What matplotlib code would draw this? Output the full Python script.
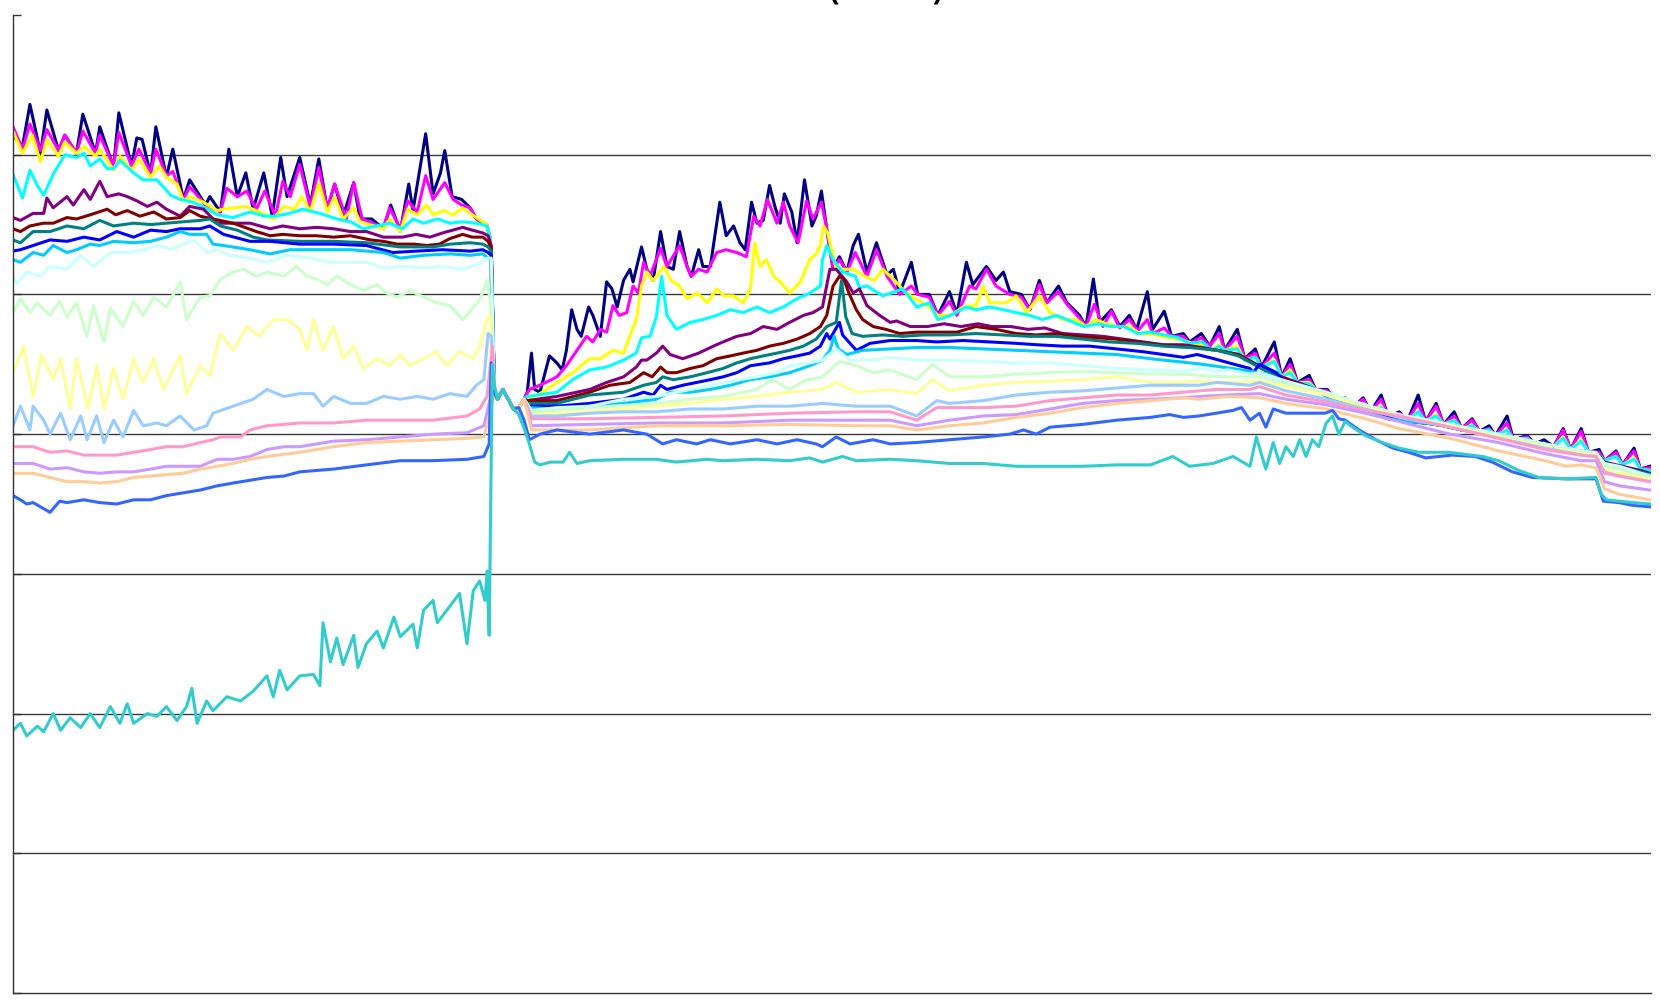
import matplotlib
matplotlib.use("Agg")
import matplotlib.pyplot as plt

# ---------------- data (x = sample index, y = value; gridlines every 100) ----------------
title_text = "(MW)"
grid_levels = [100, 200, 300, 400, 500, 600]

# common stretch where all series coincide
merged = [(458, 425), (463, 432), (468, 425), (473, 418), (478, 419), (483, 425)]

navy_a = [(0,614),(9,606),(16,636),(26,601),(32,632),(43,603),(49,614),(60,601),(66,629),(78,601),(82,620),(95,591),(100,630),(112,592),(117,612),(122,611),(130,586),(135,620),(145,584),(151,604),(161,568),(167,582),(182,564),(186,570),(196,559),(204,604),(212,570),(220,587),(227,561),(237,587),(245,556),(253,598),(259,570),(271,598),(281,564),(289,597),(297,561),(304,579),(312,556),(322,580),(328,554),(339,554),(350,547),(357,564),(366,545),(374,579),(378,560),(390,615),(397,572),(404,587),(408,603),(415,570),(424,568),(432,562),(438,554),(448,549),(451,540),(455,429)]
navy_b = [(486,430),(490,458),(493,432),(498,430),(507,456),(514,451),(519,446),(523,460),(528,489),(533,475),(537,470),(544,491),(548,485),(555,470),(561,509),(566,504),(571,491),(577,510),(583,518),(586,509),(594,534),(599,518),(605,510),(612,545),(618,520),(624,518),(630,545),(637,520),(641,513),(648,532),(652,520),(659,520),(668,566),(674,542),(681,549),(687,537),(692,532),(698,566),(703,551),(709,553),(715,578),(720,563),(725,551),(729,572),(736,559),(741,537),(748,582),(755,549),(759,556),(764,574),(769,547),(775,518),(781,527),(788,516),(794,535),(799,543),(807,516),(816,537),(826,514),(832,518),(838,501),(849,523),(855,500),(866,500),(874,485),(885,502),(892,486),(901,523),(907,507),(920,520),(929,510),(936,516),(942,502),(953,500),(961,489),(970,510),(977,494),(988,506),(996,494),(1008,485),(1014,477),(1021,511),(1027,480),(1038,489),(1046,477),(1055,485),(1062,475),(1072,502),(1077,475),(1088,488),(1095,470),(1106,472),(1112,466),(1123,472),(1131,463),(1140,477),(1145,460),(1157,475),(1164,454),(1174,461),(1180,448),(1192,466),(1199,441),(1207,454),(1214,437),(1225,442),(1231,432),(1242,432),(1248,426),(1259,426),(1266,419),(1276,426),(1283,416),(1293,428),(1300,412),(1310,416),(1318,410),(1328,428),(1335,409),(1345,422),(1352,407),(1362,416),(1369,404),(1379,411),(1386,402),(1395,406),(1401,399),(1412,413),(1418,396),(1431,399),(1438,393),(1447,396),(1456,391),(1465,404),(1472,389),(1482,404),(1489,387),(1499,389),(1504,381),(1515,388),(1521,378),(1532,390),(1538,375),(1547,377)]

magenta_a = [(0,620),(9,604),(16,622),(26,603),(32,618),(43,603),(49,614),(60,601),(66,617),(78,601),(82,614),(95,592),(100,616),(112,592),(119,604),(130,587),(135,604),(145,585),(151,588),(161,568),(167,577),(182,564),(196,559),(202,576),(212,570),(221,574),(230,561),(238,574),(248,556),(255,581),(262,570),(271,593),(281,562),(289,591),(297,561),(304,579),(315,554),(322,580),(330,554),(350,548),(356,562),(366,547),(373,567),(382,559),(390,585),(397,568),(408,580),(416,568),(424,564),(432,562),(438,554),(448,550),(451,540),(455,429)]
magenta_b = [(488,432),(498,435),(514,441),(523,449),(533,460),(542,470),(548,466),(555,475),(561,473),(567,492),(573,485),(580,487),(586,506),(591,501),(596,523),(602,513),(612,533),(618,520),(622,525),(630,535),(637,520),(641,513),(648,518),(656,516),(665,530),(674,532),(684,530),(693,527),(700,556),(706,549),(713,568),(722,551),(728,566),(734,549),(742,537),(750,567),(756,554),(764,566),(769,547),(775,518),(781,525),(788,516),(796,530),(807,513),(816,532),(826,513),(838,500),(849,506),(855,500),(866,498),(874,485),(885,495),(892,485),(904,506),(910,504),(920,518),(929,506),(942,500),(953,498),(961,489),(970,507),(977,494),(988,502),(996,493),(1008,483),(1014,477),(1022,493),(1030,477),(1038,488),(1046,476),(1055,482),(1063,474),(1072,482),(1077,472),(1088,476),(1095,470),(1106,470),(1112,465),(1123,469),(1131,463),(1140,472),(1145,460),(1157,470),(1164,454),(1174,458),(1180,448),(1192,458),(1199,441),(1207,450),(1214,437),(1225,439),(1231,432),(1242,431),(1248,426),(1259,425),(1266,419),(1276,425),(1283,416),(1293,425),(1300,412),(1310,415),(1318,410),(1328,422),(1335,409),(1345,420),(1352,407),(1362,413),(1369,404),(1379,410),(1386,402),(1395,404),(1401,399),(1412,408),(1418,396),(1431,398),(1438,393),(1447,392),(1456,391),(1465,403),(1472,389),(1482,402),(1489,387),(1499,387),(1504,381),(1515,387),(1521,378),(1532,388),(1538,375),(1547,376)]

yellow_a = [(0,617),(9,601),(18,614),(26,595),(32,611),(43,599),(49,609),(60,601),(67,606),(78,599),(82,604),(95,589),(101,599),(112,589),(119,597),(130,584),(138,592),(145,584),(155,579),(161,567),(167,570),(180,566),(193,560),(199,561),(220,563),(233,559),(246,554),(256,563),(266,561),(273,570),(281,559),(289,580),(297,559),(304,570),(312,554),(322,562),(328,552),(350,547),(356,554),(366,545),(373,561),(382,557),(391,564),(397,557),(407,560),(416,557),(425,562),(434,557),(440,554),(448,550),(451,540),(455,429)]
yellow_b = [(486,425),(498,429),(514,437),(529,444),(545,454),(555,454),(567,460),(577,458),(583,470),(589,482),(594,506),(599,516),(605,510),(615,520),(622,510),(630,506),(637,497),(647,501),(656,494),(665,504),(672,499),(681,499),(690,494),(697,504),(701,537),(706,520),(712,525),(719,513),(725,509),(734,501),(744,509),(753,525),(759,529),(763,535),(766,549),(770,544),(778,518),(794,518),(805,513),(814,510),(822,518),(832,511),(844,501),(866,491),(874,485),(886,485),(898,491),(910,492),(917,506),(923,494),(939,494),(948,499),(958,487),(970,499),(980,487),(992,482),(1005,482),(1014,477),(1023,482),(1033,479),(1043,477),(1055,477),(1065,472),(1080,471),(1093,469),(1106,467),(1124,463),(1133,460),(1140,464),(1145,460),(1157,463),(1164,453),(1174,455),(1180,448),(1192,453),(1199,441),(1207,446),(1214,437),(1225,437),(1231,432),(1242,429),(1248,426),(1259,424),(1266,419),(1276,422),(1283,416),(1293,420),(1300,412),(1310,413),(1318,410),(1328,416),(1335,409),(1345,414),(1352,407),(1362,410),(1369,404),(1379,406),(1386,402),(1395,403),(1401,399),(1412,403),(1418,396),(1431,396),(1438,393),(1456,391),(1465,398),(1472,389),(1482,396),(1489,387),(1499,385),(1504,381),(1515,384),(1521,378),(1532,383),(1538,375),(1547,374)]

cyan_a = [(0,586),(9,569),(16,589),(23,578),(29,571),(38,586),(49,600),(60,598),(67,601),(73,592),(82,597),(89,590),(95,590),(101,596),(114,587),(123,582),(136,582),(149,571),(158,568),(170,566),(182,562),(193,557),(208,555),(224,559),(238,556),(248,556),(261,558),(274,561),(290,558),(306,554),(319,552),(331,547),(343,549),(356,551),(368,547),(378,554),(388,551),(401,554),(413,551),(425,552),(438,551),(448,549),(451,540),(455,429)]
cyan_b = [(486,427),(514,430),(529,439),(545,446),(561,448),(577,453),(589,458),(594,469),(602,470),(608,484),(613,513),(618,485),(627,475),(640,480),(652,482),(665,485),(678,489),(690,487),(703,491),(715,487),(728,491),(741,497),(753,501),(763,506),(765,525),(769,535),(775,525),(784,516),(796,513),(800,505),(807,506),(822,499),(841,504),(854,491),(866,494),(874,482),(886,485),(901,491),(910,489),(923,491),(936,489),(948,487),(961,485),(973,482),(986,485),(999,481),(1012,477),(1025,479),(1038,477),(1050,477),(1063,472),(1075,473),(1088,471),(1101,469),(1112,465),(1124,466),(1133,460),(1140,463),(1145,460),(1157,461),(1164,453),(1174,455),(1180,448),(1192,452),(1199,441),(1207,444),(1214,437),(1225,436),(1231,432),(1242,429),(1248,426),(1259,425),(1266,419),(1276,422),(1283,416),(1293,419),(1300,412),(1310,413),(1318,410),(1328,416),(1335,409),(1345,413),(1352,407),(1362,410),(1369,404),(1379,406),(1386,402),(1395,403),(1401,399),(1412,403),(1418,396),(1431,397),(1438,393),(1456,391),(1465,397),(1472,389),(1482,395),(1489,387),(1499,385),(1504,381),(1515,384),(1521,378),(1532,382),(1538,375),(1547,374)]

purple_a = [(0,555),(7,553),(19,558),(29,558),(32,569),(38,562),(51,570),(57,564),(67,575),(73,568),(82,581),(89,570),(100,572),(108,570),(117,567),(127,563),(136,566),(145,561),(158,556),(167,563),(180,561),(193,551),(212,551),(224,551),(243,547),(255,549),(271,547),(287,548),(303,547),(319,545),(334,545),(350,541),(368,541),(381,543),(394,541),(406,544),(425,548),(434,546),(444,544),(449,542),(452,535),(455,429)]
purple_b = [(486,424),(514,427),(545,432),(561,437),(577,441),(589,448),(594,453),(599,453),(608,458),(614,463),(621,457),(633,454),(648,458),(662,463),(671,466),(684,470),(697,472),(709,477),(722,475),(734,480),(747,485),(756,487),(765,491),(772,518),(778,518),(788,509),(794,501),(800,504),(807,492),(819,485),(829,480),(835,481),(848,477),(864,477),(880,479),(896,477),(912,479),(925,477),(943,477),(959,475),(975,476),(992,472),(1011,471),(1030,470),(1049,468),(1068,466),(1087,464),(1106,464),(1124,462),(1138,460),(1158,457),(1180,448),(1199,441),(1214,437),(1231,432),(1248,426),(1266,419),(1283,416),(1300,412),(1318,410),(1335,409),(1352,407),(1369,404),(1386,402),(1401,399),(1418,396),(1438,393),(1456,391),(1472,389),(1489,387),(1499,385),(1504,380),(1521,377),(1538,374),(1547,372)]

maroon_a = [(0,547),(7,545),(16,549),(29,551),(38,551),(51,555),(60,554),(73,557),(89,561),(97,557),(108,560),(120,556),(133,559),(145,554),(158,555),(167,560),(177,556),(189,554),(208,551),(230,545),(243,542),(255,543),(271,542),(287,542),(303,541),(319,542),(338,539),(350,538),(363,536),(379,536),(391,535),(403,536),(413,540),(425,543),(434,541),(444,541),(449,538),(452,533),(455,429)]
maroon_b = [(486,424),(514,424),(545,430),(564,435),(583,437),(596,444),(604,441),(612,448),(618,444),(627,444),(640,447),(652,449),(665,454),(678,456),(690,458),(703,460),(715,463),(728,465),(741,468),(753,472),(763,477),(769,485),(775,506),(781,513),(785,511),(790,501),(797,489),(803,482),(813,477),(825,475),(838,472),(854,473),(873,473),(892,473),(910,477),(929,475),(948,472),(967,471),(986,472),(1005,470),(1024,469),(1043,468),(1062,466),(1081,464),(1100,463),(1119,462),(1138,460),(1158,457),(1180,447),(1199,440),(1214,436),(1231,432),(1248,425),(1266,419),(1283,415),(1300,411),(1318,409),(1335,408),(1352,406),(1369,403),(1386,401),(1401,398),(1418,395),(1438,392),(1456,391),(1472,388),(1489,386),(1499,384),(1504,379),(1521,376),(1538,373),(1547,371)]

teal_a = [(0,539),(7,537),(19,545),(35,545),(51,549),(67,547),(82,553),(95,549),(114,551),(130,550),(145,551),(161,552),(177,553),(186,554),(196,549),(212,546),(227,541),(240,539),(271,538),(303,538),(334,537),(366,534),(397,534),(413,536),(432,537),(444,536),(449,534),(452,531),(455,429)]
teal_b = [(486,422),(514,422),(545,428),(577,430),(596,435),(608,437),(614,441),(624,439),(640,441),(656,444),(671,447),(684,451),(697,454),(709,456),(722,458),(734,460),(747,463),(759,468),(769,477),(778,480),(783,510),(787,484),(793,472),(803,470),(822,471),(841,470),(860,471),(885,471),(910,472),(936,471),(961,470),(986,470),(1011,468),(1036,466),(1062,465),(1087,463),(1112,462),(1138,460),(1158,456),(1180,447),(1199,439),(1214,435),(1231,431),(1248,425),(1266,419),(1283,415),(1300,411),(1318,409),(1335,408),(1352,406),(1369,403),(1386,401),(1401,398),(1418,395),(1438,392),(1456,391),(1472,388),(1489,386),(1499,384),(1504,379),(1521,376),(1538,373),(1547,371)]

blue_a = [(0,531),(7,532),(19,535),(35,539),(51,538),(67,541),(82,539),(98,545),(114,541),(130,546),(145,545),(158,547),(177,547),(186,549),(199,543),(224,538),(243,538),(271,536),(303,536),(334,535),(359,530),(381,531),(406,532),(432,531),(444,532),(449,530),(452,528),(455,429)]
blue_b = [(486,420),(514,420),(545,422),(577,425),(596,430),(605,428),(612,435),(618,432),(633,435),(646,437),(659,439),(671,441),(684,444),(697,449),(715,451),(728,454),(741,456),(753,458),(763,463),(769,472),(772,468),(781,480),(784,471),(791,465),(797,460),(810,465),(829,467),(854,467),(873,466),(898,467),(923,466),(948,465),(967,464),(992,463),(1017,463),(1043,461),(1068,459),(1087,457),(1106,455),(1119,457),(1135,454),(1154,450),(1169,447),(1172,444),(1178,450),(1194,444),(1201,438),(1214,435),(1231,431),(1248,425),(1266,419),(1283,415),(1300,411),(1318,409),(1335,408),(1352,406),(1369,403),(1386,401),(1401,398),(1418,395),(1438,392),(1456,391),(1472,388),(1489,386),(1499,384),(1504,378),(1521,375),(1538,372),(1547,371)]

sky_a = [(0,525),(7,523),(19,530),(29,528),(38,535),(51,530),(60,532),(73,536),(82,535),(95,538),(114,537),(130,538),(145,541),(158,545),(167,543),(183,543),(189,536),(199,535),(224,532),(243,529),(262,532),(287,532),(319,532),(350,530),(366,526),(388,528),(413,529),(432,528),(444,529),(449,526),(452,525),(455,429)]
sky_b = [(486,419),(514,418),(545,420),(577,422),(608,425),(621,430),(640,430),(659,432),(678,435),(697,439),(715,441),(734,444),(753,449),(765,453),(772,460),(776,470),(780,461),(788,457),(803,460),(829,461),(854,462),(885,462),(917,461),(948,460),(980,459),(1011,458),(1043,457),(1075,454),(1100,452),(1124,450),(1143,448),(1169,445),(1185,443),(1201,438),(1214,435),(1231,431),(1248,425),(1266,419),(1283,415),(1300,411),(1318,409),(1335,408),(1352,406),(1369,403),(1386,401),(1401,398),(1418,395),(1438,392),(1456,391),(1472,388),(1489,386),(1499,384),(1504,378),(1521,375),(1538,372),(1547,371)]

lcyan_a = [(0,513),(4,508),(13,516),(26,513),(35,520),(51,518),(64,528),(76,520),(92,530),(108,530),(123,532),(139,535),(149,532),(158,535),(171,539),(183,530),(193,532),(205,528),(224,526),(240,523),(259,528),(271,527),(281,526),(300,523),(319,523),(334,523),(350,519),(368,520),(388,519),(406,520),(425,518),(441,522),(448,526),(452,526),(455,429)]
lcyan_b = [(490,417),(514,419),(545,420),(577,425),(608,427),(640,432),(671,437),(703,441),(722,444),(734,449),(753,451),(765,453),(778,461),(791,453),(813,453),(829,455),(854,453),(885,453),(917,452),(948,451),(980,451),(1011,449),(1043,447),(1075,446),(1106,445),(1121,447),(1138,445),(1148,446),(1169,443),(1178,444),(1203,438),(1241,430),(1278,421),(1310,414),(1358,407),(1404,400),(1448,393),(1482,388),(1496,387),(1504,379),(1518,377),(1547,370)]

lgreen_a = [(0,487),(7,497),(16,487),(23,494),(35,485),(44,495),(51,484),(60,494),(70,470),(76,492),(86,466),(92,490),(104,477),(114,495),(123,485),(133,498),(145,491),(158,509),(164,482),(177,498),(186,499),(196,511),(208,516),(218,518),(230,513),(240,516),(256,513),(268,520),(278,513),(287,511),(297,507),(306,513),(319,507),(331,503),(344,507),(353,501),(363,498),(375,503),(388,498),(401,494),(413,492),(425,482),(432,488),(441,496),(448,510),(451,495),(455,429)]
lgreen_b = [(490,416),(514,417),(545,419),(608,422),(640,425),(671,427),(703,432),(718,439),(734,432),(750,439),(765,441),(781,452),(797,449),(813,444),(829,446),(854,439),(869,450),(885,441),(917,441),(948,443),(980,444),(1011,445),(1043,444),(1075,443),(1106,443),(1121,442),(1148,441),(1178,441),(1203,436),(1241,429),(1278,420),(1310,413),(1358,406),(1404,399),(1448,392),(1482,387),(1496,385),(1504,378),(1518,375),(1547,369)]

lyellow_a = [(0,444),(10,463),(19,427),(27,457),(33,447),(38,439),(45,454),(54,418),(60,454),(71,418),(79,449),(86,418),(95,447),(104,425),(114,454),(123,437),(133,454),(142,432),(158,456),(164,429),(177,449),(186,442),(196,472),(208,460),(221,477),(233,470),(246,482),(259,482),(271,475),(278,460),(284,482),(293,460),(303,477),(312,454),(322,463),(331,447),(344,454),(356,449),(366,457),(375,449),(388,454),(400,459),(410,449),(422,459),(435,454),(441,463),(448,482),(451,485),(455,429)]
lyellow_b = [(490,414),(545,416),(577,418),(608,420),(640,422),(671,425),(703,427),(734,430),(765,432),(778,437),(797,430),(829,432),(854,429),(869,439),(885,431),(917,435),(948,437),(980,438),(1011,439),(1043,441),(1075,437),(1106,437),(1121,438),(1148,437),(1178,438),(1203,434),(1241,428),(1278,419),(1310,413),(1358,406),(1404,398),(1448,391),(1482,386),(1496,385),(1504,375),(1518,372),(1547,368)]

pblue_a = [(0,406),(7,420),(16,403),(19,420),(29,410),(35,400),(45,415),(54,396),(64,413),(70,396),(79,413),(86,394),(95,410),(104,398),(114,417),(123,406),(136,408),(145,406),(158,413),(171,403),(183,406),(189,415),(208,420),(227,425),(240,432),(256,427),(271,429),(284,429),(293,420),(303,427),(319,422),(334,422),(350,427),(366,425),(382,427),(397,425),(413,429),(429,427),(438,435),(445,439),(449,472),(452,470),(455,429)]
pblue_b = [(490,413),(514,413),(545,415),(577,416),(608,416),(640,418),(671,418),(703,420),(734,420),(765,422),(797,420),(829,420),(854,413),(873,424),(885,422),(917,424),(948,428),(980,430),(1011,431),(1043,433),(1075,435),(1106,435),(1121,435),(1138,437),(1169,435),(1178,437),(1203,431),(1241,425),(1278,418),(1310,412),(1358,405),(1404,397),(1448,390),(1482,385),(1496,384),(1504,373),(1518,370),(1547,366)]

rose_a = [(0,391),(19,391),(35,387),(51,388),(67,385),(82,385),(98,385),(114,387),(130,389),(145,391),(161,391),(177,394),(189,396),(196,398),(215,398),(224,403),(240,406),(256,407),(271,408),(303,408),(334,410),(366,410),(397,410),(429,413),(441,418),(448,427),(453,463),(455,429)]
rose_b = [(490,411),(545,411),(608,412),(671,413),(734,415),(797,416),(829,416),(854,410),(873,419),(917,419),(948,420),(980,424),(1011,426),(1043,428),(1075,428),(1106,430),(1121,431),(1138,432),(1169,432),(1178,434),(1203,428),(1241,423),(1278,417),(1310,413),(1358,405),(1404,397),(1448,389),(1482,385),(1496,384),(1504,372),(1518,370),(1547,366)]

lav_a = [(0,379),(19,379),(35,375),(51,376),(67,373),(82,372),(98,373),(114,373),(130,375),(145,377),(161,377),(177,377),(193,382),(208,382),(224,384),(240,389),(256,391),(271,391),(303,395),(334,396),(366,398),(397,400),(429,401),(445,406),(451,425),(455,429)]
lav_b = [(490,406),(545,407),(608,408),(671,408),(734,410),(797,410),(829,410),(854,406),(885,410),(917,413),(948,414),(980,418),(1011,422),(1043,424),(1075,425),(1106,426),(1121,427),(1148,428),(1178,429),(1203,425),(1241,421),(1278,415),(1310,409),(1358,400),(1404,394),(1448,386),(1482,381),(1496,381),(1504,366),(1518,363),(1547,360)]

tan_a = [(0,372),(19,372),(35,369),(51,366),(67,366),(82,365),(98,366),(114,369),(130,370),(145,371),(161,372),(177,375),(193,377),(208,379),(224,382),(240,384),(271,387),(303,391),(334,394),(366,395),(397,396),(429,397),(445,398),(451,416),(455,429)]
tan_b = [(490,403),(545,403),(608,406),(671,406),(734,407),(797,406),(829,406),(854,403),(885,406),(917,408),(948,412),(980,415),(1011,419),(1043,422),(1075,424),(1106,426),(1121,425),(1148,427),(1178,426),(1203,422),(1241,418),(1278,411),(1310,404),(1358,397),(1404,388),(1448,381),(1468,377),(1482,378),(1496,376),(1504,361),(1518,357),(1547,353)]

royal_a = [(0,356),(7,353),(13,350),(19,351),(35,344),(44,352),(51,351),(67,353),(82,351),(98,350),(114,353),(130,353),(145,356),(161,358),(177,360),(193,363),(208,365),(224,367),(240,369),(256,370),(271,373),(303,375),(334,378),(366,381),(397,381),(429,382),(445,384),(450,393),(452,451),(455,429)]
royal_b = [(483,410),(488,396),(498,400),(514,403),(545,400),(577,403),(599,400),(614,393),(627,396),(646,393),(659,396),(678,393),(703,396),(722,393),(741,396),(759,393),(765,391),(778,398),(791,393),(813,396),(829,393),(854,394),(885,396),(917,398),(942,400),(955,403),(967,400),(980,405),(1011,407),(1043,410),(1075,412),(1093,414),(1106,412),(1121,413),(1137,415),(1153,417),(1161,419),(1169,410),(1178,415),(1184,405),(1191,418),(1203,415),(1222,415),(1240,415),(1247,417),(1253,411),(1259,410),(1272,403),(1288,396),(1304,390),(1319,387),(1335,383),(1360,385),(1382,384),(1398,380),(1417,373),(1436,369),(1468,368),(1496,368),(1503,352),(1518,351),(1531,349),(1547,348)]

aqua_a = [(0,188),(7,193),(13,184),(23,191),(29,187),(38,200),(45,188),(54,197),(64,190),(73,200),(82,190),(92,205),(101,193),(108,207),(114,193),(127,200),(136,198),(145,205),(155,195),(164,205),(169,218),(174,193),(183,209),(189,202),(202,212),(215,209),(227,216),(240,227),(246,212),(252,231),(259,217),(271,227),(284,228),(290,220),(293,265),(300,237),(306,254),(312,235),(322,256),(326,233),(334,250),(344,259),(350,247),(360,269),(366,255),(378,264),(382,247),(388,274),(397,281),(401,265),(410,274),(422,286),(429,250),(435,288),(441,295),(446,281),(448,302),(450,256),(453,450),(455,435)]
aqua_b = [(478,414),(483,404),(488,393),(493,380),(498,378),(508,380),(520,380),(526,387),(533,379),(545,381),(577,382),(608,382),(627,380),(656,382),(671,381),(703,382),(734,381),(753,383),(765,380),(784,384),(797,381),(829,382),(854,381),(885,379),(917,379),(948,377),(980,377),(1011,377),(1043,378),(1075,378),(1096,384),(1112,377),(1134,379),(1153,384),(1169,377),(1175,398),(1184,375),(1191,394),(1197,379),(1203,391),(1210,384),(1216,396),(1222,384),(1228,396),(1234,391),(1241,408),(1247,413),(1253,400),(1259,409),(1266,405),(1278,399),(1294,394),(1310,390),(1329,387),(1357,387),(1389,384),(1404,381),(1423,374),(1442,369),(1468,368),(1496,369),(1501,357),(1506,353),(1531,351),(1547,350)]

# ---------------- figure ----------------
W, H = 1660, 1000
fig = plt.figure(figsize=(W / 100, H / 100), dpi=100)
ax = fig.add_axes([13 / W, 7 / H, (1651 - 13) / W, (993 - 15) / H])

ax.set_xlim(0, 1548)
ax.set_ylim(0, 700)

ax.hlines(grid_levels, 0, 1548, colors="#3a3a3a", linewidth=1.0, zorder=1)

series = [
    (navy_a + merged + navy_b, "#000080"),
    (magenta_a + merged + magenta_b, "#FF00FF"),
    (yellow_a + merged + yellow_b, "#FFFF00"),
    (cyan_a + merged + cyan_b, "#00FFFF"),
    (purple_a + merged + purple_b, "#800080"),
    (maroon_a + merged + maroon_b, "#800000"),
    (teal_a + merged + teal_b, "#008080"),
    (blue_a + merged + blue_b, "#0000FF"),
    (sky_a + merged + sky_b, "#00CCFF"),
    (lcyan_a + merged + lcyan_b, "#CCFFFF"),
    (lgreen_a + merged + lgreen_b, "#CCFFCC"),
    (lyellow_a + merged + lyellow_b, "#FFFF99"),
    (pblue_a + merged + pblue_b, "#99CCFF"),
    (rose_a + merged + rose_b, "#FF99CC"),
    (lav_a + merged + lav_b, "#CC99FF"),
    (tan_a + merged + tan_b, "#FFCC99"),
    (royal_a + merged[:5] + royal_b, "#3366FF"),
    (aqua_a + merged[:4] + aqua_b, "#33CCCC"),
]
for pts, col in series:
    t, v = zip(*pts)
    ax.plot(t, v, color=col, linewidth=2.2, zorder=2)

for side in ("top", "right"):
    ax.spines[side].set_visible(False)
for side in ("left", "bottom"):
    ax.spines[side].set_color("#333333")
    ax.spines[side].set_linewidth(1.0)
    ax.spines[side].set_zorder(3)

ax.set_yticks(range(0, 701, 100))
ax.set_yticklabels([])
ax.set_xticks([])
ax.tick_params(axis="y", direction="in", length=6, width=1.0, color="#333333")

# title sits above the canvas; only the descending parts of the brackets show
fig.text(0.534, 1.003, title_text, fontsize=34, ha="center", va="baseline")

fig.savefig("out.png", dpi=100)
